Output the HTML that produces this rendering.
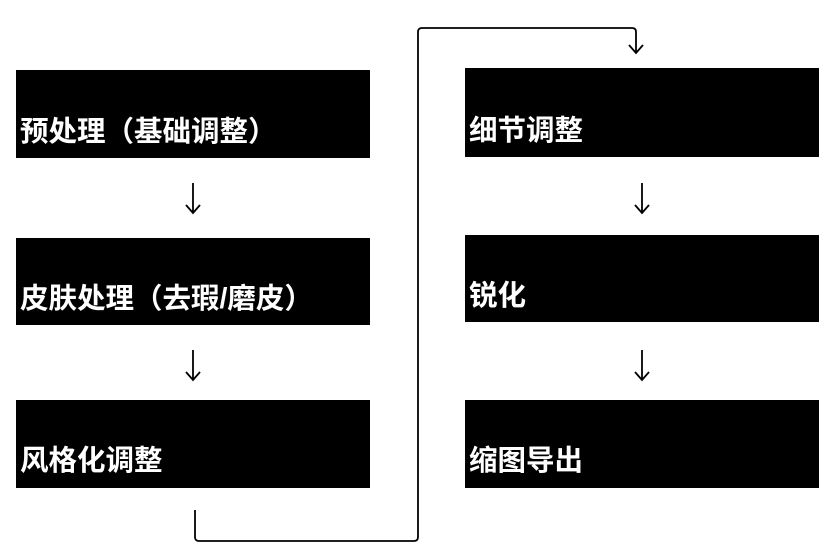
<!DOCTYPE html>
<html><head><meta charset="utf-8"><style>
body{margin:0;width:827px;height:560px;background:#fff;position:relative;overflow:hidden;font-family:"Liberation Sans","Noto Sans CJK SC",sans-serif}
.b{position:absolute;background:#000;color:#fff;font-size:28.5px;font-weight:bold;box-sizing:border-box}
.b span{position:absolute;left:4px;line-height:30px;white-space:nowrap}
</style></head><body>
<div class="b" style="left:16px;top:70px;width:354px;height:88px"><span style="top:47px">预处理（基础调整）</span></div>
<div class="b" style="left:16px;top:238px;width:354px;height:87px"><span style="top:46px">皮肤处理（去瑕/磨皮）</span></div>
<div class="b" style="left:16px;top:400px;width:354px;height:88px"><span style="top:46px">风格化调整</span></div>
<div class="b" style="left:465px;top:68px;width:354px;height:89px"><span style="top:48px">细节调整</span></div>
<div class="b" style="left:465px;top:235px;width:354px;height:87px"><span style="top:46px">锐化</span></div>
<div class="b" style="left:465px;top:400px;width:354px;height:88px"><span style="top:46px">缩图导出</span></div>
<svg width="827" height="560" style="position:absolute;left:0;top:0" fill="none" stroke="#000" stroke-width="1.8">
<path d="M193 183V213M186 205L193 213L200 205"/>
<path d="M193 350V380M186 372L193 380L200 372"/>
<path d="M642 183V213M635 205L642 213L649 205"/>
<path d="M642 350V380M635 372L642 380L649 372"/>
<path d="M195 510V537Q195 541 199 541H414Q418 541 418 537V32Q418 28 422 28H632Q636 28 636 32V53M629 45L636 53L643 45"/>
</svg>
</body></html>
